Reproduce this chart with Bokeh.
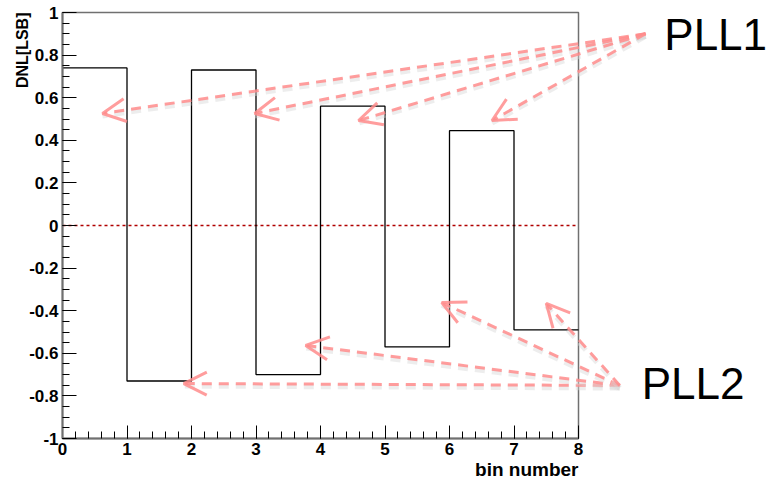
import numpy as np
from bokeh.plotting import figure
from bokeh.models import (FixedTicker, CustomJSTickFormatter, Label, Arrow,
                          OpenHead, Range1d, LinearAxis)
from bokeh.embed import file_html
from bokeh.resources import INLINE

# ---- data ----
bin_edges = [0, 1, 2, 3, 4, 5, 6, 7, 8]
dnl_values = [0.74, -0.73, 0.73, -0.70, 0.56, -0.57, 0.445, -0.49]

x_major = [0, 1, 2, 3, 4, 5, 6, 7, 8]
y_major = [-1, -0.8, -0.6, -0.4, -0.2, 0, 0.2, 0.4, 0.6, 0.8, 1]

# annotation arrows (data coords)
pll1_src = (9.04, 0.90)
pll1_targets = [(0.62, 0.526), (2.98, 0.526), (4.59, 0.493), (6.66, 0.493)]
pll2_src = (8.64, -0.751)
pll2_targets = [(1.88, -0.742), (3.77, -0.563), (5.88, -0.362), (7.50, -0.366)]

FONT = "Liberation Sans"

W, H = 768, 482
XPX = 64.5   # pixels per bin
YPX = 213.0  # pixels per unit DNL
LEFT, TOP, BOTTOM = 62, 12, 438
x_lo = -LEFT / XPX
x_hi = (W - LEFT) / XPX
y_hi = 1 + TOP / YPX
y_lo = -1 - (H - BOTTOM) / YPX

p = figure(width=W, height=H, output_backend="svg", toolbar_location=None,
           x_range=Range1d(x_lo, x_hi), y_range=Range1d(y_lo, y_hi),
           min_border=0, x_axis_location=None, y_axis_location=None)
p.background_fill_color = "white"
p.border_fill_color = "white"
p.outline_line_color = None
p.xgrid.visible = False
p.ygrid.visible = False

# box of the histogram pad
p.quad(left=x_major[0], right=x_major[-1], bottom=y_major[0], top=y_major[-1],
       fill_color=None, line_color="#707070", line_width=1.5)

# zero line
p.line([x_major[0], x_major[-1]], [0, 0], line_color="#b00000",
       line_width=1.4, line_dash="3 3")

# histogram outline
xs = list(bin_edges)
ys = list(dnl_values) + [dnl_values[-1]]
p.step(xs, ys, mode="after", line_color="black", line_width=1.3)

fmt = CustomJSTickFormatter(code="return String(Number(tick.toFixed(2)));")
xminor = list(np.round(np.arange(0, 8.0001, 0.2), 3))
yminor = list(np.round(np.arange(-1, 1.0001, 0.05), 3))

xa = LinearAxis(fixed_location=y_major[0], bounds=(x_major[0], x_major[-1]),
                ticker=FixedTicker(ticks=x_major, minor_ticks=xminor),
                formatter=fmt)
ya = LinearAxis(fixed_location=x_major[0], bounds=(y_major[0], y_major[-1]),
                ticker=FixedTicker(ticks=y_major, minor_ticks=yminor),
                formatter=fmt)
for ax in (xa, ya):
    ax.axis_line_color = "#707070"
    ax.axis_line_width = 2
    ax.major_tick_out = 0
    ax.minor_tick_out = 0
    ax.major_tick_line_color = "black"
    ax.minor_tick_line_color = "black"
    ax.major_label_text_font = FONT
    ax.major_label_text_font_style = "bold"
    ax.major_label_text_font_size = "17px"
    ax.major_label_text_color = "black"
xa.major_tick_in = 13
xa.minor_tick_in = 7
ya.major_tick_in = 14
ya.minor_tick_in = 7
xa.major_label_standoff = 4
ya.major_label_standoff = 4
p.add_layout(xa, "below")
p.add_layout(ya, "left")

# axis titles
p.add_layout(Label(x=0, y=1, x_offset=-40, text="DNL[LSB]", angle=np.pi / 2,
                   text_align="right", text_baseline="middle",
                   text_font=FONT, text_font_style="bold",
                   text_font_size="16px", text_color="black"))
p.add_layout(Label(x=8, y=-1, y_offset=-31, text="bin number",
                   text_align="right", text_baseline="alphabetic",
                   text_font=FONT, text_font_style="bold",
                   text_font_size="19px", text_color="black"))

# arrows
ARROW_COL = "#ff8c8c"
def add_arrows(src, targets):
    for tx, ty in targets:
        p.add_layout(Arrow(x_start=src[0], y_start=src[1] - 0.012, x_end=tx,
                           y_end=ty - 0.012,
                           line_color="#d8d8d8", line_alpha=0.45, line_width=5,
                           line_dash="10 7", end=None))
        p.add_layout(Arrow(x_start=src[0], y_start=src[1], x_end=tx, y_end=ty,
                           line_color=ARROW_COL, line_alpha=0.85, line_width=3,
                           line_dash="10 7",
                           end=OpenHead(size=23, line_color=ARROW_COL,
                                        line_alpha=0.85, line_width=3)))

add_arrows(pll1_src, pll1_targets)
add_arrows(pll2_src, pll2_targets)

p.add_layout(Label(x=9.33, y=0.897, text="PLL1", text_align="left",
                   text_baseline="alphabetic", text_font=FONT,
                   text_font_size="44px", text_color="black"))
p.add_layout(Label(x=8.98, y=-0.742, text="PLL2", text_align="left",
                   text_baseline="alphabetic", text_font=FONT,
                   text_font_size="44px", text_color="black"))

open("out.html", "w").write(file_html(p, INLINE))
